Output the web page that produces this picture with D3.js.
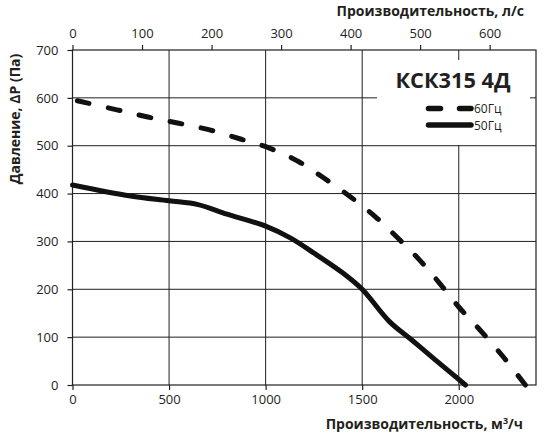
<!DOCTYPE html>
<html>
<head>
<meta charset="utf-8">
<script src="https://cdn.jsdelivr.net/npm/d3@7"></script>
<style>
  body { margin: 0; background: #fff; }
  svg { display: block; font-family: "Open Sans", "DejaVu Sans", sans-serif; }
</style>
</head>
<body>
<svg id="chart"></svg>
<script>
// chart values
const flowTicks = [0, 500, 1000, 1500, 2000];          // м3/ч
const litreTicks = [0, 100, 200, 300, 400, 500, 600];  // л/с
const pressureTicks = [0, 100, 200, 300, 400, 500, 600, 700];

// 50 Гц curve (solid)
const flow50 = [0, 300, 500, 650, 800, 1000, 1130, 1260, 1400, 1500, 1640, 1760, 1880, 2035];
const pres50 = [418, 395, 385, 377, 357, 332, 307, 273, 234, 200, 133, 93, 52, 0];

// 60 Гц curve (dashed)
const flow60 = [25, 230, 390, 550, 710, 870, 1020, 1170, 1300, 1440, 1570, 1690, 1800, 1900, 2000, 2110, 2230, 2345];
const pres60 = [594, 575, 560, 547, 533, 514, 495, 467, 433, 393, 351, 305, 260, 213, 163, 115, 59, 0];

const title = "КСК315 4Д";
const seriesNames = ["60Гц", "50Гц"];

const width = 553, height = 440;
const pLeft = 72.5, pRight = 536, pTop = 50, pBottom = 385;
const ink = "#231f20";

const svg = d3.select("#chart").attr("width", width).attr("height", height);

const x = d3.scaleLinear().domain([0, 2400]).range([pLeft, pRight]);
const xl = d3.scaleLinear().domain([0, 2400 / 3.6]).range([pLeft, pRight]);
const y = d3.scaleLinear().domain([0, 700]).range([pBottom, pTop]);

// grid
const grid = svg.append("g").attr("stroke", ink).attr("stroke-width", 1);
grid.selectAll(".vg").data(flowTicks.filter(d => d > 0))
  .enter().append("line")
  .attr("x1", d => x(d)).attr("x2", d => x(d))
  .attr("y1", pTop).attr("y2", pBottom);
grid.selectAll(".hg").data(pressureTicks.filter(d => d > 0 && d < 700))
  .enter().append("line")
  .attr("x1", pLeft).attr("x2", pRight)
  .attr("y1", d => y(d)).attr("y2", d => y(d));

// white box behind the title
const box = { x0: 377, x1: 530, y0: 60, y1: 145 };
svg.append("rect")
  .attr("x", box.x0).attr("y", box.y0)
  .attr("width", box.x1 - box.x0).attr("height", box.y1 - box.y0)
  .attr("fill", "#fff");

// frame
svg.append("rect")
  .attr("x", pLeft).attr("y", pTop)
  .attr("width", pRight - pLeft).attr("height", pBottom - pTop)
  .attr("fill", "none").attr("stroke", ink).attr("stroke-width", 1.2);

// axes
function styleAxis(g) {
  g.select(".domain").remove();
  g.selectAll(".tick line").attr("stroke", ink).attr("stroke-width", 1.2);
  g.selectAll(".tick text").attr("fill", ink)
    .style("font-family", "'Open Sans', sans-serif").style("font-size", "13px");
}

svg.append("g")
  .attr("transform", "translate(0," + pBottom + ")")
  .call(d3.axisBottom(x).tickValues(flowTicks).tickSize(5).tickPadding(5).tickFormat(d3.format("d")))
  .call(styleAxis);

svg.append("g")
  .attr("transform", "translate(0," + pTop + ")")
  .call(d3.axisTop(xl).tickValues(litreTicks).tickSize(5).tickPadding(7).tickFormat(d3.format("d")))
  .call(styleAxis);

svg.append("g")
  .attr("transform", "translate(" + pLeft + ",0)")
  .call(d3.axisLeft(y).tickValues(pressureTicks).tickSize(5).tickPadding(9).tickFormat(d3.format("d")))
  .call(styleAxis);

// curves
const line = d3.line()
  .x(d => x(d[0]))
  .y(d => y(d[1]))
  .curve(d3.curveCatmullRom.alpha(0.5));

svg.append("path")
  .datum(d3.zip(flow50, pres50))
  .attr("d", line)
  .attr("fill", "none").attr("stroke", "#111")
  .attr("stroke-width", 5).attr("stroke-linecap", "round").attr("stroke-linejoin", "round");

const dash60 = svg.append("path")
  .datum(d3.zip(flow60, pres60))
  .attr("d", line)
  .attr("fill", "none").attr("stroke", "#111")
  .attr("stroke-width", 5).attr("stroke-linecap", "round");

// fit the dash period so the curve starts and ends with a dash
const dashLen = 12;
const len60 = dash60.node().getTotalLength();
const nDash = Math.round((len60 - dashLen) / 31);
const gapLen = (len60 - dashLen) / nDash - dashLen;
dash60.attr("stroke-dasharray", dashLen + "," + gapLen);

// title
svg.append("text")
  .attr("x", 453).attr("y", 87.5)
  .attr("text-anchor", "middle")
  .attr("fill", ink)
  .style("font-family", "'Open Sans', sans-serif")
  .style("font-weight", "bold").style("font-size", "22px")
  .attr("textLength", 115).attr("lengthAdjust", "spacingAndGlyphs")
  .text(title);

// legend
const legend = svg.append("g");
const lx0 = 428.5, lx1 = 471;
const rows = [
  { name: seriesNames[0], y: 108.5, dash: "12,19" },
  { name: seriesNames[1], y: 125, dash: null }
];
rows.forEach(r => {
  legend.append("line")
    .attr("x1", lx0).attr("x2", lx1).attr("y1", r.y).attr("y2", r.y)
    .attr("stroke", "#111").attr("stroke-width", 5.5).attr("stroke-linecap", "round")
    .attr("stroke-dasharray", r.dash);
  legend.append("text")
    .attr("x", 474).attr("y", r.y + 4.5)
    .attr("fill", ink)
    .style("font-family", "'Open Sans', sans-serif").style("font-size", "12px")
    .text(r.name);
});

// axis titles
svg.append("text")
  .attr("x", 524).attr("y", 15.5)
  .attr("text-anchor", "end").attr("fill", ink)
  .style("font-weight", "bold").style("font-size", "14px")
  .text("Производительность, л/с");

const bt = svg.append("text")
  .attr("x", 523).attr("y", 429)
  .attr("text-anchor", "end").attr("fill", ink)
  .style("font-weight", "bold").style("font-size", "14px");
bt.append("tspan").text("Производительность, м");
bt.append("tspan").attr("dy", -5).style("font-size", "9px").text("3");
bt.append("tspan").attr("dy", 5).text("/ч");

svg.append("text")
  .attr("transform", "translate(20,119) rotate(-90)")
  .attr("text-anchor", "middle").attr("fill", ink)
  .style("font-weight", "bold").style("font-size", "14px")
  .text("Давление, ΔP (Па)");
</script>
</body>
</html>
